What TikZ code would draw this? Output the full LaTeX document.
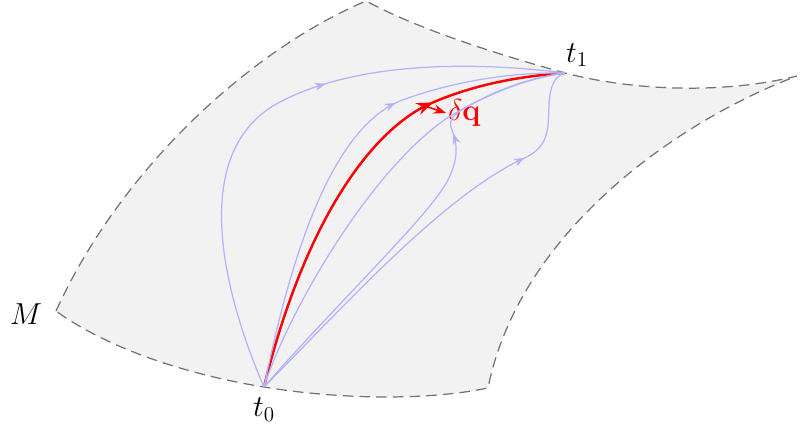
\documentclass[tikz,border=0pt]{standalone}
\usetikzlibrary{arrows.meta,decorations.markings,positioning}
\begin{document}
\begin{tikzpicture}[x=0.2mm, y=-0.2mm,
    trajectory/.style={blue!30, line width=0.7pt},
    midarrow/.style={postaction={decorate,
        decoration={markings, mark=at position #1 with {\arrow{Stealth}}}}}]

    \useasboundingbox (0,0) rectangle (800,433);

    % Manifold
    \filldraw[fill=gray!10, draw=black!55, line width=0.7pt, dash pattern=on 6pt off 3.5pt]
        (56,311) .. controls (120,170) and (250,50) .. (366,1)
        .. controls (420,30) and (500,55) .. (565,73)
        .. controls (630,90) and (720,95) .. (797,76)
        .. controls (680,120) and (520,230) .. (488,388)
        .. controls (420,402) and (330,398) .. (264,387)
        .. controls (190,375) and (110,350) .. (56,311) -- cycle;

    % End points
    \coordinate (t0) at (264,387);
    \coordinate (t1) at (565,73);
    \node[below=1mm of t0] (t0lab) {\LARGE $t_0$};
    \node[above right=0mm and -1mm of t1] (t1lab) {\LARGE $t_1$};
    \node (M) at (26,314) {\LARGE $M$};

    % True path
    \draw[red, line width=1.4pt, midarrow=0.715]
        (t0) .. controls (300,240) and (360,140) .. (425,106) coordinate (dqbase)
        .. controls (470,85) and (520,76) .. (t1);

    % Variation
    \node[red, anchor=west, inner sep=1pt] (dq) at (446,113) {\LARGE $\delta\mathbf{q}$};
    \draw[red, line width=0.9pt, -{Stealth}] (dqbase) -- (dq.west);

    % Varied paths
    \draw[trajectory, midarrow=0.60]
        (t0) .. controls (222,290) and (188,150) .. (280,102)
        .. controls (360,60) and (480,62) .. (t1);
    \draw[trajectory, midarrow=0.65]
        (t0) .. controls (290,260) and (330,130) .. (400,101)
        .. controls (450,82) and (510,72) .. (t1);
    \draw[trajectory]
        (t0) .. controls (285,320) and (365,175) .. (447,118)
        .. controls (490,92) and (530,78) .. (t1);
    \draw[trajectory, midarrow=0.70]
        (t0) .. controls (340,300) and (430,215) .. (448,180)
        .. controls (458,160) and (458,145) .. (452,130)
        .. controls (448,122) and (452,115) .. (465,108)
        .. controls (500,88) and (530,78) .. (t1);
    \draw[trajectory, midarrow=0.775]
        (t0) .. controls (350,300) and (440,200) .. (520,160)
        .. controls (550,148) and (548,130) .. (549,105)
        .. controls (550,85) and (555,76) .. (t1);

\end{tikzpicture}
\end{document}
